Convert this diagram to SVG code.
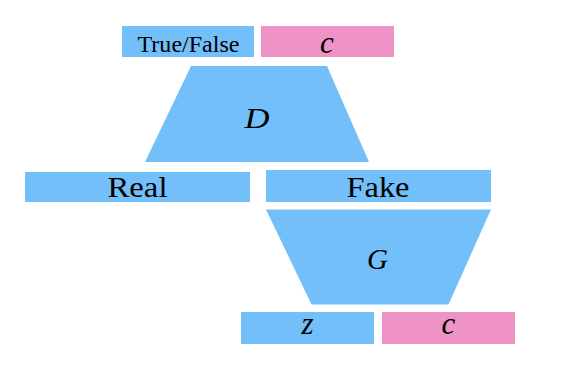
<svg xmlns="http://www.w3.org/2000/svg" width="573" height="374" viewBox="0 0 573 374">
<style>
.b{fill:#73bff9}
.p{fill:#ef92c5}
text{font-family:"Liberation Serif","DejaVu Serif",serif;fill:#000;text-anchor:middle}
.m{font-style:italic}
</style>
<rect width="573" height="374" fill="#fff"/>
<g id="truefalse"><rect class="b" x="122" y="26" width="132" height="31"/><text x="188.5" y="51.5" font-size="22.5" textLength="102" lengthAdjust="spacingAndGlyphs">True/False</text></g>
<g id="c-top"><rect class="p" x="261" y="26" width="133" height="31"/><text class="m" x="327" y="53" font-size="31">c</text></g>
<g id="D"><polygon class="b" points="191,66 327,66 369,162 145,162"/><text class="m" x="257" y="128" font-size="30" textLength="25" lengthAdjust="spacingAndGlyphs">D</text></g>
<g id="real"><rect class="b" x="25" y="172" width="225" height="30"/><text x="137.5" y="197.3" font-size="30" textLength="60" lengthAdjust="spacingAndGlyphs">Real</text></g>
<g id="fake"><rect class="b" x="266" y="170" width="225" height="32"/><text x="378" y="197" font-size="30" textLength="63" lengthAdjust="spacingAndGlyphs">Fake</text></g>
<g id="G"><polygon class="b" points="266,209.5 491,209.5 448.5,304.5 311.5,304.5"/><text class="m" x="377.5" y="268.5" font-size="29">G</text></g>
<g id="z"><rect class="b" x="241" y="312" width="133" height="32"/><text class="m" x="307.5" y="333.5" font-size="31">z</text></g>
<g id="c-bottom"><rect class="p" x="382" y="312" width="133" height="32"/><text class="m" x="448.5" y="333.5" font-size="31">c</text></g>
<g id="connectors"/>
</svg>
